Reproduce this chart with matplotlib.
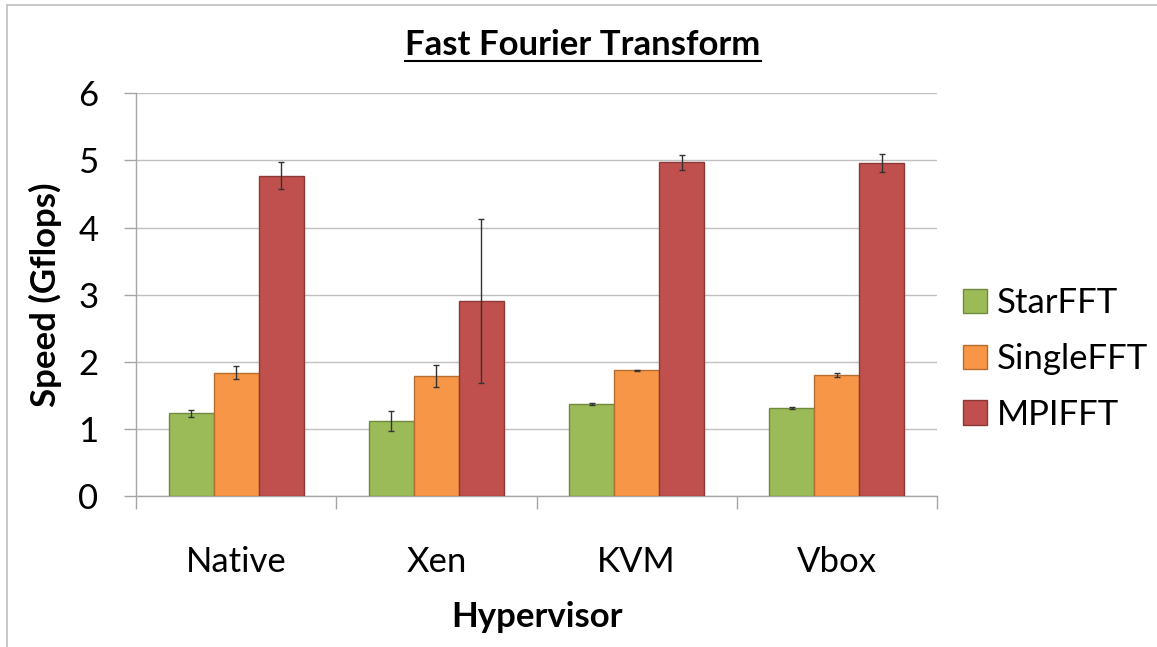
import matplotlib
matplotlib.use("Agg")
import matplotlib.pyplot as plt
from matplotlib.patches import Rectangle
import numpy as np

plt.rcParams['font.family'] = ['Lato', 'DejaVu Sans']

categories = ["Native", "Xen", "KVM", "Vbox"]
series = ["StarFFT", "SingleFFT", "MPIFFT"]
star_vals = [1.23, 1.12, 1.37, 1.31]
star_err = [0.055, 0.15, 0.01, 0.02]
single_vals = [1.84, 1.79, 1.87, 1.81]
single_err = [0.10, 0.16, 0.01, 0.03]
mpi_vals = [4.77, 2.91, 4.97, 4.96]
mpi_err = [0.20, 1.22, 0.11, 0.13]
yticks = [0, 1, 2, 3, 4, 5, 6]

colors = ["#9BBB59", "#F79646", "#C0504D"]
edges = ["#71893F", "#B66D31", "#8C3836"]
FS = 25

W, H = 1157, 647
fig = plt.figure(figsize=(W / 100, H / 100), dpi=100)
fig.patches.append(Rectangle((7 / W, -0.1), 2, (H - 5) / H + 0.1, transform=fig.transFigure,
                             fill=False, edgecolor="#bfbfbf", linewidth=1.2))

ax = fig.add_axes([136 / W, (H - 496) / H, (937 - 136) / W, (496 - 93.3) / H])
x = np.arange(len(categories))
bw = 0.225
data = [(star_vals, star_err), (single_vals, single_err), (mpi_vals, mpi_err)]
for i, (vals, errs) in enumerate(data):
    ax.bar(x + (i - 1) * bw, vals, bw, yerr=errs, color=colors[i], edgecolor=edges[i],
           linewidth=1.0, label=series[i], zorder=3,
           error_kw=dict(ecolor="#333333", elinewidth=1.0, capsize=2.5, capthick=1.0, zorder=4))

ax.set_ylim(0, 6)
ax.set_xlim(-0.5, len(categories) - 0.5)
ax.set_yticks(yticks)
ax.set_yticklabels([str(t) for t in yticks], fontsize=FS)
ax.yaxis.grid(True, color="#c0c0c0", linewidth=1.0, zorder=0)
ax.set_axisbelow(True)
ax.tick_params(axis="y", length=9, color="#a6a6a6", pad=18, width=1.0)

ax.set_xticks(np.arange(len(categories) + 1) - 0.5)
ax.set_xticklabels([])
ax.set_xticks(x, minor=True)
ax.set_xticklabels(categories, minor=True, fontsize=FS)
ax.tick_params(axis="x", which="major", length=9, color="#a6a6a6", width=1.0)
ax.tick_params(axis="x", which="minor", length=0, pad=36)

for s in ["top", "right"]:
    ax.spines[s].set_visible(False)
for s in ["left", "bottom"]:
    ax.spines[s].set_color("#a6a6a6")
    ax.spines[s].set_linewidth(1.0)

fig.text(45 / W, 1 - 295 / H, "Speed (Gflops)", rotation=90, ha="center", va="center",
         fontsize=FS, fontweight="bold")
fig.text(537 / W, 1 - 617 / H, "Hypervisor", ha="center", va="center",
         fontsize=FS, fontweight="bold")

t = fig.text(583 / W, 1 - 55 / H, "Fast Fourier Transform", ha="center", va="baseline",
             fontsize=FS, fontweight="bold")
fig.canvas.draw()
bb = t.get_window_extent()
fig.add_artist(plt.Line2D([bb.x0 / W, bb.x1 / W], [1 - 61 / H, 1 - 61 / H],
                          transform=fig.transFigure, color="black", linewidth=1.5))

leg = fig.legend(loc="center left", bbox_to_anchor=(963 / W, 1 - 359 / H), frameon=False,
                 fontsize=FS, handlelength=0.7, handleheight=0.7, handletextpad=0.28,
                 labelspacing=0.68, borderpad=0, borderaxespad=0)

fig.savefig("out.png", dpi=100)
